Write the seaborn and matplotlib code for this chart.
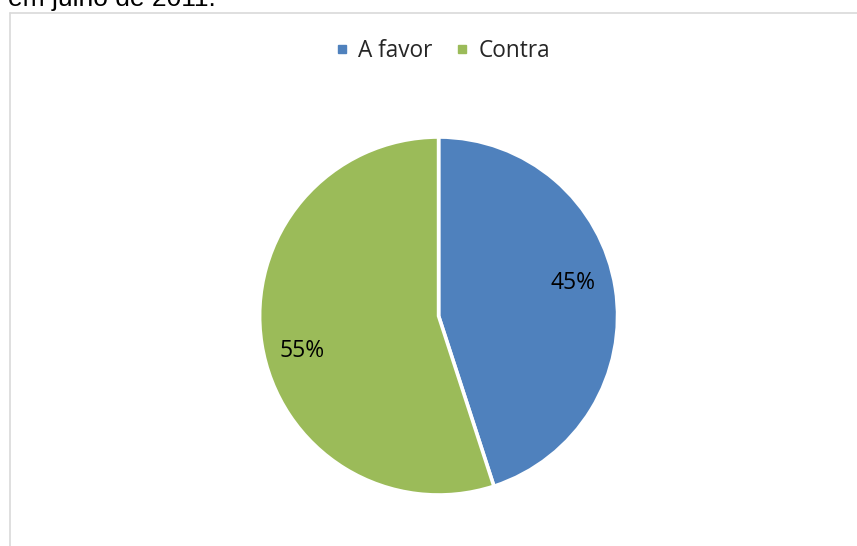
import matplotlib
matplotlib.use("Agg")
import matplotlib.pyplot as plt
from matplotlib.lines import Line2D
import numpy as np
import seaborn as sns

# Survey result: share of answers for and against
categories = ["A favor", "Contra"]
shares = [45, 55]
pct_labels = ["45%", "55%"]

sns.set_theme(style="white")
plt.rcParams["font.family"] = ["Open Sans", "DejaVu Sans"]

colors = sns.color_palette(["#4F81BD", "#9BBB59"])

W, H = 857, 546
fig = plt.figure(figsize=(W / 100, H / 100), dpi=100)
fig.patch.set_facecolor("white")

# Caption line from the page above the chart
fig.text(8 / W, 1 - 6 / H, "em julho de 2011.", family="Liberation Sans",
         fontsize=19, ha="left", va="baseline", color="black")

# Chart area border (left and top edges)
border = "#D9D9D9"
fig.add_artist(Line2D([10 / W, 10 / W], [1 - 12.5 / H, 0], transform=fig.transFigure,
                      color=border, lw=1.2))
fig.add_artist(Line2D([10 / W, 1], [1 - 12.5 / H, 1 - 12.5 / H], transform=fig.transFigure,
                      color=border, lw=1.2))

# Pie axes: centre (438.6, 316) px, radius 179 px
cx, cy, r = 438.6, 316, 179
ax = fig.add_axes([(cx - r) / W, (H - cy - r) / H, 2 * r / W, 2 * r / H])
wedges, _ = ax.pie(shares, colors=colors, startangle=90, counterclock=False,
                   radius=1.0, wedgeprops=dict(edgecolor="white", linewidth=2.6))
ax.set_xlim(-1, 1)
ax.set_ylim(-1, 1)
ax.set_aspect("auto")
ax.axis("off")

# Percentage labels placed inside each wedge
theta = 90.0
label_r = [0.775, 0.79]
offsets = [4.8, 5.4]
for val, lab, lr, off in zip(shares, pct_labels, label_r, offsets):
    span = 360.0 * val / sum(shares)
    mid = theta - span / 2
    theta -= span
    a = np.deg2rad(mid + off)
    ax.text(lr * np.cos(a), lr * np.sin(a), lab, ha="center", va="center",
            fontsize=16.5, color="black")

# Legend with small square keys
handles = [Line2D([0], [0], marker="s", linestyle="none", markersize=5.8,
                  markerfacecolor=c, markeredgecolor=c) for c in colors]
fig.legend(handles, categories, loc="center", bbox_to_anchor=(442 / W, 1 - 51 / H),
           ncol=2, frameon=False, fontsize=16.3, handlelength=0.7,
           handletextpad=0.36, columnspacing=0.95, borderpad=0, borderaxespad=0)

fig.savefig("out.png", dpi=100, facecolor="white")
